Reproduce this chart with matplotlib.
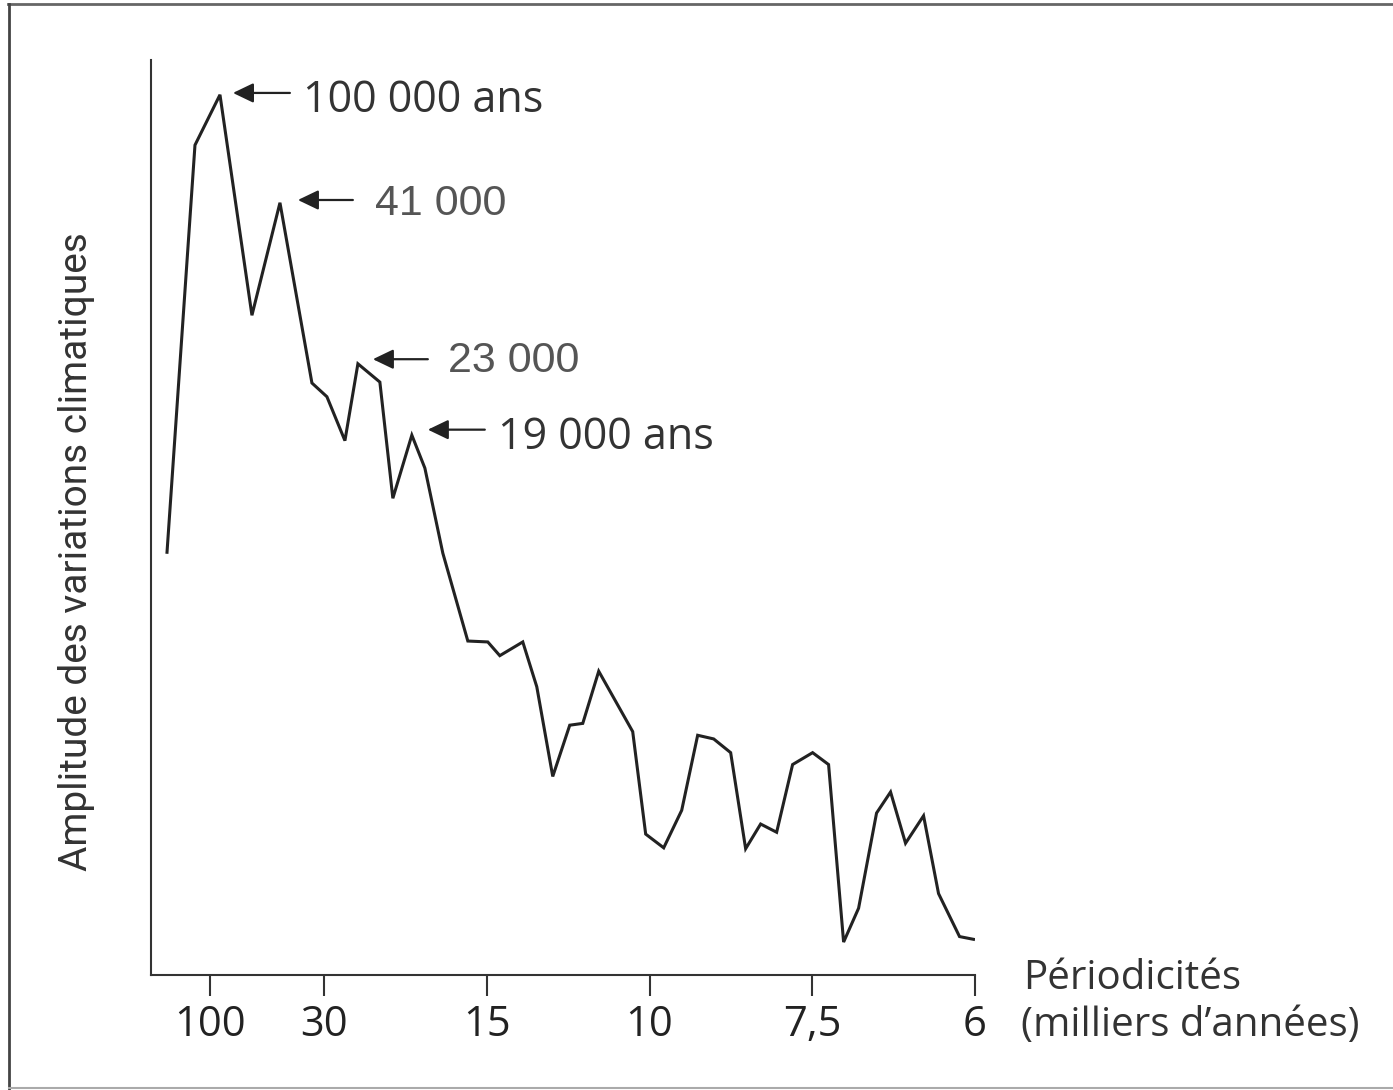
import matplotlib
matplotlib.use("Agg")
import matplotlib.pyplot as plt
from matplotlib.lines import Line2D
from matplotlib import font_manager

# Spectrum of climate variations: frequency (cycles per million years) vs amplitude
frequency = [1.13, 6.86, 11.98, 18.53, 24.27, 30.82, 33.89, 37.58, 40.24, 44.74,
             47.40, 51.29, 53.96, 57.64, 62.76, 66.85, 69.31, 74.02, 76.89, 80.16,
             83.64, 86.31, 89.58, 96.54, 99.20, 102.89, 106.58, 109.85, 113.13, 116.61,
             119.68, 122.75, 126.03, 129.30, 133.40, 136.67, 139.75, 142.82, 146.50, 149.37,
             152.44, 156.13, 159.20, 163.50, 166.36]
amplitude = [4.62, 9.07, 9.62, 7.21, 8.44, 6.47, 6.32, 5.84, 6.68, 6.48,
             5.21, 5.90, 5.54, 4.61, 3.65, 3.64, 3.49, 3.64, 3.15, 2.17,
             2.73, 2.75, 3.32, 2.66, 1.54, 1.39, 1.80, 2.62, 2.58, 2.43,
             1.38, 1.65, 1.56, 2.30, 2.43, 2.30, 0.36, 0.73, 1.77, 2.00,
             1.44, 1.74, 0.89, 0.42, 0.39]

# Periods (thousands of years) shown on the frequency axis
tick_periods = [100, 30, 15, 10, 7.5, 6]
tick_labels = ["100", "30", "15", "10", "7,5", "6"]

# Peak annotations: label, arrow tip, arrow tail, text anchor
peak_labels = ["100 000 ans", "41 000", "23 000", "19 000 ans"]
arrow_tips = [(14.64, 9.64), (27.95, 8.47), (43.31, 6.73), (54.57, 5.96)]
arrow_tails = [(26.31, 9.64), (39.21, 8.47), (54.57, 6.73), (66.24, 5.96)]
label_pos = [(28.96, 9.43), (43.71, 8.31), (58.66, 6.59), (68.90, 5.75)]
label_fonts = ["Open Sans", "Liberation Sans", "Liberation Sans", "Open Sans"]
label_colors = ["#333333", "#555555", "#555555", "#333333"]

available = {f.name for f in font_manager.fontManager.ttflist}
narrow = "Liberation Sans Narrow" if "Liberation Sans Narrow" in available else "Roboto"

W, H = 1393, 1090
fig = plt.figure(figsize=(W / 100, H / 100), dpi=100)
fig.patch.set_facecolor("white")

ax = fig.add_axes([151 / W, 1 - 975 / H, (975 - 151) / W, (975 - 60) / H])
ax.plot(frequency, amplitude, color="#222222", lw=2.2, solid_joinstyle="miter")

ax.set_xlim(-2.15, 166.67)
ax.set_ylim(0, 10)
for side in ("top", "right"):
    ax.spines[side].set_visible(False)
for side in ("left", "bottom"):
    ax.spines[side].set_color("#333333")
    ax.spines[side].set_linewidth(1.5)
ax.set_yticks([])
ax.set_xticks([1000 / p for p in tick_periods])
ax.set_xticklabels(tick_labels, fontfamily="Open Sans", fontsize=30, color="#222222")
ax.tick_params(axis="x", direction="out", length=15, width=1.5, color="#333333", pad=6)

fig.text(77 / W, 1 - 552 / H, "Amplitude des variations climatiques",
         fontfamily=narrow, fontsize=28, color="#333333",
         rotation=90, ha="center", va="center")

for lab, tip, tail, pos, fam, col in zip(peak_labels, arrow_tips, arrow_tails,
                                         label_pos, label_fonts, label_colors):
    ax.annotate("", xy=tip, xytext=tail,
                arrowprops=dict(arrowstyle="-|>,head_length=1.25,head_width=0.6",
                                color="#222222", lw=1.6, shrinkA=0, shrinkB=0))
    ax.text(pos[0], pos[1], lab, fontfamily=fam, fontsize=31, color=col,
            ha="left", va="baseline")

fig.text(1023 / W, 1 - 989 / H, "Périodicités", fontfamily="Open Sans",
         fontsize=29, color="#333333", ha="left", va="baseline")
fig.text(1021 / W, 1 - 1036 / H, "(milliers d\u2019années)", fontfamily="Open Sans",
         fontsize=29, color="#333333", ha="left", va="baseline")

# Frame lines around the figure
fig.add_artist(Line2D([8 / W, 1.0], [1 - 4 / H, 1 - 4 / H], transform=fig.transFigure,
                      color="#666666", lw=2))
fig.add_artist(Line2D([9 / W, 9 / W], [1 - 4 / H, 0], transform=fig.transFigure,
                      color="#444444", lw=2))
fig.add_artist(Line2D([9 / W, 1.0], [1 - 1088 / H, 1 - 1088 / H], transform=fig.transFigure,
                      color="#aaaaaa", lw=1.5))

fig.savefig("out.png", dpi=100, facecolor="white")
